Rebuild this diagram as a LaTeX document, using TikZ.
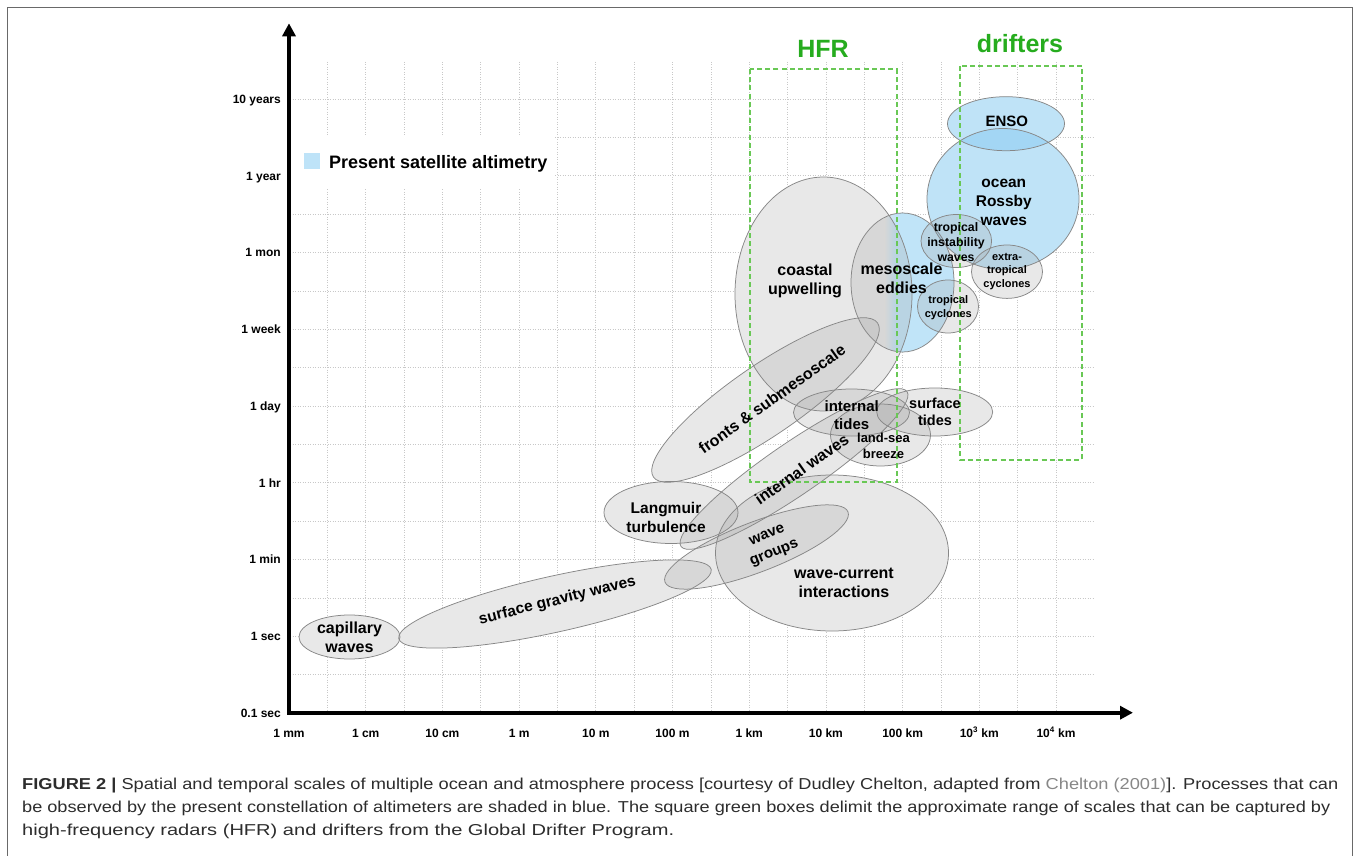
\documentclass[tikz,border=0pt]{standalone}
\usepackage{fontspec}
\setmainfont{Liberation Sans}
\usepackage{graphicx}
\usetikzlibrary{arrows.meta}

\definecolor{gridc}{RGB}{200,200,200}
\definecolor{ellline}{RGB}{135,135,135}
\definecolor{grayfill}{RGB}{167,167,167}
\definecolor{bluefill}{RGB}{140,205,242}
\definecolor{hfrtext}{RGB}{38,172,30}
\definecolor{hfrline}{RGB}{105,200,85}
\definecolor{legblue}{RGB}{190,227,248}
\definecolor{mesogray}{RGB}{232,232,232}
\definecolor{mesoblue}{RGB}{192,228,248}
\definecolor{captext}{RGB}{45,45,45}
\definecolor{citec}{RGB}{135,135,135}
\definecolor{framec}{RGB}{105,105,105}

\newcommand\mycapA{\textbf{FIGURE 2 |} Spatial and temporal scales of multiple ocean and atmosphere process [courtesy of Dudley Chelton, adapted from \textcolor{citec}{Chelton (2001)}]. Processes that can}
\newcommand\mycapB{be observed by the present constellation of altimeters are shaded in blue. The square green boxes delimit the approximate range of scales that can be captured by}
\newcommand\mycapC{high-frequency radars (HFR) and drifters from the Global Drifter Program.}
\newcommand\mycapfont{\fontsize{15.8}{23}\selectfont\color{captext}}

\def\grayells{349.5/637/50.5/22/0, 555/604/160/28/12.5, 671/512.5/67/31/0, 765.5/400/136/35/34.5, 794/469/137/26/34.4, 756.5/547/98/25/21, 832/553/116.5/78/0, 823.5/294/88.5/117/0, 851.5/412.5/58/23.5/0, 934.7/412/58/24/0, 880.5/435/50/31/0, 948/306.5/30.5/26.5/0, 956.3/241/35.3/26.5/0, 1007/271.7/35.5/26.7/0}
\def\blueells{1003/199/76/70.5/0, 1006/123.7/58.5/27/0}
\edef\allells{\grayells, \blueells, 902.5/282.5/51.5/69.5/0}

\begin{document}
\begin{tikzpicture}[x=1pt,y=-1pt,
  gridline/.style={gridc, line width=0.7pt, dash pattern=on 0.9pt off 1.6pt},
  ellstroke/.style={draw=ellline, line width=0.75pt},
  lbl/.style 2 args={font=\bfseries\fontsize{#1}{#2}\selectfont, align=center, inner sep=0pt},
  axlbl/.style={font=\bfseries\fontsize{12}{14}\selectfont, inner sep=0pt},
  axisline/.style={line width=3.6pt, line join=miter, {Triangle[length=13pt,width=13pt]}-{Triangle[length=13pt,width=13pt]}},
  boxline/.style={hfrline, line width=2pt, dash pattern=on 5pt off 3.2pt},
  boxlbl/.style={font=\bfseries\fontsize{25}{28}\selectfont, text=hfrtext, inner sep=0pt, anchor=base},
  capline/.style={anchor=base west, inner sep=0pt}]

\useasboundingbox (0,0) rectangle (1360,856);
\fill[white] (0,0) rectangle (1360,856);

% frame
\draw[framec, line width=1.6pt] (7.5,870) -- (7.5,7.5) -- (1352.5,7.5) -- (1352.5,870);

% grid
\foreach \k in {1,...,20} \draw[gridline] ({289+38.35*\k},62) -- ({289+38.35*\k},713);
\foreach \k in {1,...,16} \draw[gridline] (290,{713-38.375*\k}) -- (1094,{713-38.375*\k});
\fill[white] (291,136) rectangle (555,189);

% white underlay of all ellipses
\foreach \cx/\cy/\rx/\ry/\a in \allells
  \fill[white, rotate around={\a:(\cx,\cy)}] (\cx,\cy) ellipse [x radius=\rx pt, y radius=\ry pt];

% mesoscale eddies: gray to blue
\begin{scope}
  \clip (902.5,282.5) ellipse [x radius=51.5pt, y radius=69.5pt];
  \fill[mesogray] (845,205) rectangle (885,360);
  \shade[left color=mesogray, right color=mesoblue] (884.5,205) rectangle (896,360);
  \fill[mesoblue] (895.5,205) rectangle (960,360);
\end{scope}

% blue ellipses
\foreach \cx/\cy/\rx/\ry/\a in \blueells
  \fill[bluefill, fill opacity=0.55, rotate around={\a:(\cx,\cy)}] (\cx,\cy) ellipse [x radius=\rx pt, y radius=\ry pt];

% gray ellipses
\foreach \cx/\cy/\rx/\ry/\a in \grayells
  \fill[grayfill, fill opacity=0.26, rotate around={\a:(\cx,\cy)}] (\cx,\cy) ellipse [x radius=\rx pt, y radius=\ry pt];

% outlines
\foreach \cx/\cy/\rx/\ry/\a in \allells
  \draw[ellstroke, rotate around={\a:(\cx,\cy)}] (\cx,\cy) ellipse [x radius=\rx pt, y radius=\ry pt];

% green boxes
\coordinate (hfrA) at (750,69);
\coordinate (hfrB) at (896.5,482);
\coordinate (drfA) at (960,66);
\coordinate (drfB) at (1082,460);
\draw[boxline] (hfrA) rectangle (hfrB);
\draw[boxline] (drfA) rectangle (drfB);
\node[boxlbl] (hfr) at (823,57.3) {HFR};
\node[boxlbl] (drifters) at (1020,52.7) {drifters};

% axes
\coordinate (ytip) at (289,23.3);
\coordinate (origin) at (289,712.7);
\coordinate (xtip) at (1133,712.7);
\draw[axisline] (ytip) -- (origin) -- (xtip);

% y labels
\foreach \t [count=\i from 0] in {0.1 sec,1 sec,1 min,1 hr,1 day,1 week,1 mon,1 year,10 years}
  \node[axlbl, anchor=base east] (ylab\i) at (281,{713-76.75*\i+4.3}) {\t};

% x labels
\foreach \t [count=\i from 0] in {1 mm,1 cm,10 cm,1 m,10 m,100 m,1 km,10 km,100 km,10\textsuperscript{3} km,10\textsuperscript{4} km}
  \node[axlbl, anchor=base] (xlab\i) at ({289+76.7*\i},737.3) {\t};

% legend
\fill[legblue] (304,153) rectangle (320,168.5);
\node[font=\bfseries\fontsize{18}{20}\selectfont, anchor=base west, inner sep=0pt] (legend) at (329,168.3) {Present satellite altimetry};

% process labels
\node[lbl={16}{19}] (capillary) at (349.5,637.5) {capillary\\waves};
\node[lbl={15.5}{19}, rotate=14] (sgw) at (557.4,600.8) {surface gravity waves};
\node[lbl={15.5}{19}] (langmuir) at (666,517.2) {Langmuir\\turbulence};
\node[lbl={16}{19}, rotate=35.5] (fronts) at (772,399) {fronts \& submesoscale};
\node[lbl={16}{19}, rotate=35] (intwaves) at (801.7,469.2) {internal waves};
\node[lbl={15}{19}, rotate=22] (wavegroups) at (771,545) {wave\\groups};
\node[lbl={16}{19}] (wavecurrent) at (844,583) {wave-current\\interactions};
\node[lbl={16}{19}] (coastal) at (805,280.5) {coastal\\upwelling};
\node[lbl={15}{18}] (intides) at (851.7,414.8) {internal\\tides};
\node[lbl={14.5}{17.5}] (surftides) at (935,412) {surface\\tides};
\node[lbl={13}{16}] (landsea) at (883.5,445.6) {land-sea\\breeze};
\node[lbl={16}{19}] (mesoscale) at (901.5,278.7) {mesoscale\\eddies};
\node[lbl={11}{14}] (tropcyc) at (948.3,308) {tropical\\cyclones};
\node[lbl={12.3}{15}] (tiw) at (956,242.3) {tropical\\instability\\waves};
\node[lbl={11}{13.6}] (extratrop) at (1007,271.4) {extra-\\tropical\\cyclones};
\node[lbl={15.5}{19}] (rossby) at (1003.8,202) {ocean\\Rossby\\waves};
\node[lbl={15}{18}] (enso) at (1006.8,121.7) {ENSO};

% caption
\node[capline] (capA) at (22,789) {\resizebox{1316pt}{\height}{\mycapfont\mycapA}};
\node[capline] (capB) at (22,812) {\resizebox{1308pt}{\height}{\mycapfont\mycapB}};
\node[capline] (capC) at (22,835) {\resizebox{652pt}{\height}{\mycapfont\mycapC}};
\end{tikzpicture}
\end{document}
